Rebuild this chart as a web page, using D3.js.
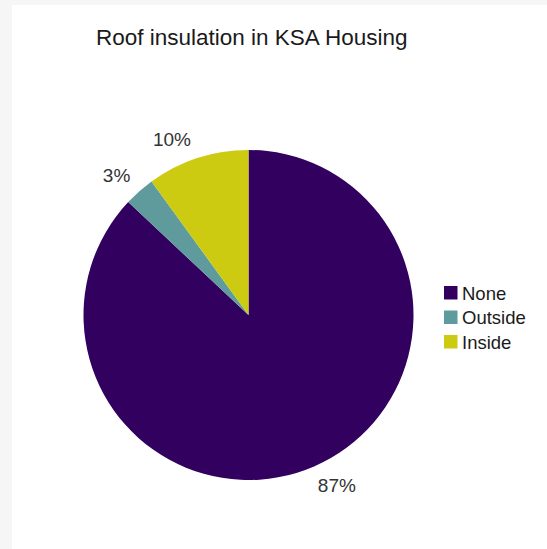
<!DOCTYPE html>
<html>
<head>
<meta charset="utf-8">
<script src="https://cdn.jsdelivr.net/npm/d3@7"></script>
<style>
  html, body { margin: 0; padding: 0; background: #ffffff; }
  svg { display: block; }
</style>
</head>
<body>
<svg id="chart" width="547" height="549"></svg>
<script>
// Roof insulation shares
const categories = ["None", "Outside", "Inside"];
const values = [87, 3, 10];
const colors = ["#32015f", "#5f9b9d", "#cccb12"];
const title = "Roof insulation in KSA Housing";

const svg = d3.select("#chart");
const W = 547, H = 549;
const FONT = "Liberation Sans, Arial, Helvetica, sans-serif";

// faint page frame
svg.append("rect").attr("x", 0).attr("y", 0).attr("width", W).attr("height", H).attr("fill", "#f6f6f6");
svg.append("rect").attr("x", 12).attr("y", 5).attr("width", W - 12).attr("height", H - 5).attr("fill", "#ffffff");

svg.append("text")
  .attr("x", 96).attr("y", 45)
  .attr("font-family", FONT)
  .attr("font-size", 22.5)
  .attr("fill", "#1a1a1a")
  .text(title);

const cx = 248.5, cy = 315, r = 165;
const data = categories.map((c, i) => ({ name: c, value: values[i], color: colors[i] }));

const pie = d3.pie().value(d => d.value).sort(null);
const arcs = pie(data);
const arc = d3.arc().innerRadius(0).outerRadius(r);

// outside labels: placed past the rim, each nudged a little counter-clockwise
const labelR = 192;
const labelNudgeDeg = { None: -4, Outside: -2, Inside: -5.5 };
function labelPos(d) {
  const a = (d.startAngle + d.endAngle) / 2 + labelNudgeDeg[d.data.name] * Math.PI / 180;
  return [labelR * Math.sin(a), -labelR * Math.cos(a)];
}

const g = svg.append("g").attr("transform", `translate(${cx},${cy})`);
g.selectAll("path.slice")
  .data(arcs)
  .join("path")
  .attr("class", "slice")
  .attr("d", arc)
  .attr("fill", d => d.data.color);

g.selectAll("text.pct")
  .data(arcs)
  .join("text")
  .attr("class", "pct")
  .attr("transform", d => `translate(${labelPos(d)})`)
  .attr("text-anchor", "middle")
  .attr("dy", "0.35em")
  .attr("font-family", FONT)
  .attr("font-size", 19)
  .attr("fill", "#333333")
  .text(d => d.data.value + "%");

// legend
const legend = svg.append("g").attr("transform", "translate(444,286)");
const item = legend.selectAll("g.item")
  .data(data)
  .join("g")
  .attr("class", "item")
  .attr("transform", (d, i) => `translate(0,${i * 24.5})`);
item.append("rect")
  .attr("width", 13.5).attr("height", 13.5)
  .attr("fill", d => d.color);
item.append("text")
  .attr("x", 18).attr("y", 7)
  .attr("dy", "0.36em")
  .attr("font-family", FONT)
  .attr("font-size", 18.5)
  .attr("fill", "#1a1a1a")
  .text(d => d.name);
</script>
</body>
</html>
